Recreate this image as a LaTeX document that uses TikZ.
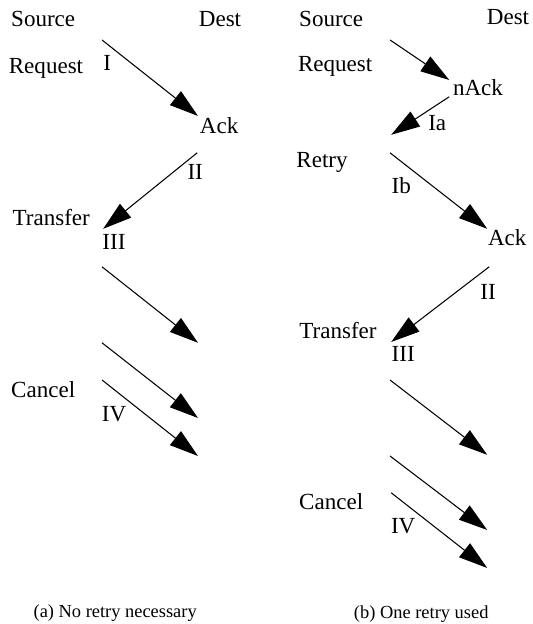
\documentclass[tikz,border=0pt]{standalone}
\usepackage{fontspec}
\setmainfont{Liberation Serif}
\usetikzlibrary{arrows.meta}

\begin{document}
\begin{tikzpicture}[x=1cm,y=1cm]
\tikzset{
  msglabel/.style={inner sep=0pt,font=\fontsize{16.4}{19}\selectfont},
  caption/.style={inner sep=0pt,font=\fontsize{13.1}{16}\selectfont},
  message/.style={-{Triangle[length=0.72cm,width=0.44cm]},line width=0.75pt}
}
\useasboundingbox (0,0) rectangle (13.30,15.60);
% (a) no retry
\node[msglabel] (a_src) at (1.08,15.13) {Source};
\node[msglabel] (a_dst) at (5.50,15.13) {Dest};
\node[msglabel] (a_req) at (1.15,13.90) {Request};
\node[msglabel] (a_i) at (2.68,14.03) {I};
\node[msglabel] (a_ack) at (5.48,12.45) {Ack};
\node[msglabel] (a_ii) at (4.88,11.30) {II};
\node[msglabel] (a_xfer) at (1.28,10.15) {Transfer};
\node[msglabel] (a_iii) at (2.85,9.55) {III};
\node[msglabel] (a_cancel) at (1.08,5.85) {Cancel};
\node[msglabel] (a_iv) at (2.85,5.25) {IV};
\node[caption] (a_cap) at (2.88,0.28) {(a) No retry necessary};
\coordinate (a_s_1) at (2.55,14.60);
\coordinate (a_d_1) at (4.95,12.70);
\coordinate (a_d_2) at (4.93,11.78);
\coordinate (a_s_2) at (2.58,9.88);
\coordinate (a_s_3) at (2.55,8.93);
\coordinate (a_d_3) at (4.95,7.03);
\coordinate (a_s_4) at (2.55,7.03);
\coordinate (a_d_4) at (4.95,5.15);
\coordinate (a_s_5) at (2.55,6.10);
\coordinate (a_d_5) at (4.95,4.20);
\draw[message] (a_s_1) -- (a_d_1);
\draw[message] (a_d_2) -- (a_s_2);
\draw[message] (a_s_3) -- (a_d_3);
\draw[message] (a_s_4) -- (a_d_4);
\draw[message] (a_s_5) -- (a_d_5);
% (b) one retry
\node[msglabel] (b_src) at (8.28,15.13) {Source};
\node[msglabel] (b_dst) at (12.70,15.18) {Dest};
\node[msglabel] (b_req) at (8.38,13.93) {Request};
\node[msglabel] (b_nack) at (11.95,13.40) {nAck};
\node[msglabel] (b_ia) at (10.93,12.53) {Ia};
\node[msglabel] (b_retry) at (8.05,11.53) {Retry};
\node[msglabel] (b_ib) at (10.03,10.95) {Ib};
\node[msglabel] (b_ack) at (12.68,9.65) {Ack};
\node[msglabel] (b_ii) at (12.20,8.30) {II};
\node[msglabel] (b_xfer) at (8.45,7.33) {Transfer};
\node[msglabel] (b_iii) at (10.08,6.75) {III};
\node[msglabel] (b_cancel) at (8.28,3.05) {Cancel};
\node[msglabel] (b_iv) at (10.08,2.45) {IV};
\node[caption] (b_cap) at (10.53,0.25) {(b) One retry used};
\coordinate (b_s_1) at (9.75,14.60);
\coordinate (b_d_1) at (11.23,13.60);
\coordinate (b_d_2) at (11.23,13.18);
\coordinate (b_s_2) at (9.78,12.23);
\coordinate (b_s_3) at (9.75,11.78);
\coordinate (b_d_3) at (12.18,9.88);
\coordinate (b_d_4) at (12.23,8.93);
\coordinate (b_s_4) at (9.78,7.05);
\coordinate (b_s_5) at (9.75,6.10);
\coordinate (b_d_5) at (12.18,4.23);
\coordinate (b_s_6) at (9.75,4.20);
\coordinate (b_d_6) at (12.18,2.35);
\coordinate (b_s_7) at (9.78,3.28);
\coordinate (b_d_7) at (12.18,1.40);
\draw[message] (b_s_1) -- (b_d_1);
\draw[message] (b_d_2) -- (b_s_2);
\draw[message] (b_s_3) -- (b_d_3);
\draw[message] (b_d_4) -- (b_s_4);
\draw[message] (b_s_5) -- (b_d_5);
\draw[message] (b_s_6) -- (b_d_6);
\draw[message] (b_s_7) -- (b_d_7);
\end{tikzpicture}
\end{document}
